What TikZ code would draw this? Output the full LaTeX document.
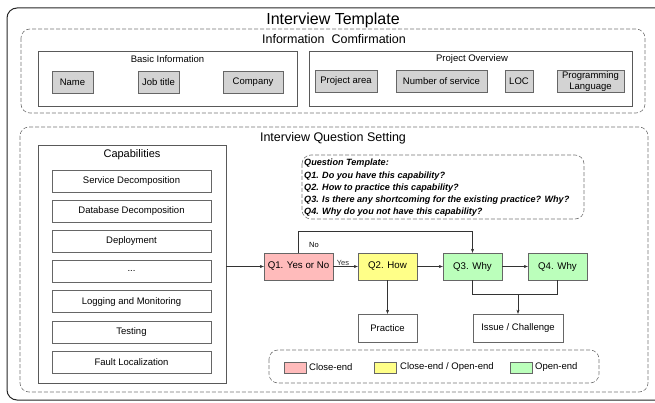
\documentclass[tikz,border=0pt]{standalone}
\usepackage{fontspec}
\setmainfont{Liberation Sans}
\usetikzlibrary{arrows.meta}
\definecolor{closeend}{HTML}{FFBBBB}
\definecolor{mixedend}{HTML}{FFFF88}
\definecolor{openend}{HTML}{BBFFBB}
\definecolor{fieldgray}{HTML}{D3D3D3}
\newcommand{\capdots}{...}

\begin{document}
\begin{tikzpicture}[x=1pt, y=-1pt,
    every node/.style={inner sep=1pt, align=center},
    field/.style={draw=black!60, fill=fieldgray, minimum height=22pt, font=\fontsize{9.5}{10.5}\selectfont},
    capitem/.style={draw=black!60, fill=white, minimum width=159pt, minimum height=22pt, font=\fontsize{9.5}{11}\selectfont},
    group/.style={draw=black!65, minimum height=55pt},
    area/.style={draw=black!55, line width=0.6pt, dash pattern=on 4pt off 2pt, rounded corners=9pt},
    qbox/.style={draw=black!60, minimum width=59pt, minimum height=27pt, font=\fontsize{9.7}{12}\selectfont},
    outbox/.style={draw=black!60, fill=white, minimum height=28pt, font=\fontsize{9.5}{12}\selectfont},
    swatch/.style={draw=black!60, minimum width=22pt, minimum height=11pt, inner sep=0pt},
    legtext/.style={anchor=west, font=\fontsize{9.5}{11}\selectfont},
    arr/.style={-{Stealth[length=4pt, width=3pt]}, black!80}]
    \useasboundingbox (0,0) rectangle (655,403);
    % Draw the outer frame
    \draw[line width=1pt, black!85, rounded corners=10pt] (7,8) rectangle (670,400);
    \node[font=\fontsize{16}{18}\selectfont] (title) at (333,20) {Interview Template};

    % Draw the information confirmation part
    \draw[area] (21,29) rectangle (645,113);
    \node[font=\fontsize{12.5}{14}\selectfont] (infotitle) at (334,39) {Information\ \ Comfirmation};
    \node[group, minimum width=259pt] (basic) at (167.5,78.5) {};
    \node[font=\fontsize{9.5}{11}\selectfont] (basictitle) at (167.5,59) {Basic Information};
    \node[field, minimum width=41pt] (name) at (72.5,82) {Name};
    \node[field, minimum width=41pt] (job) at (158.5,82) {Job title};
    \node[field, minimum width=60pt] (company) at (253,82) {Company};
    \node[group, minimum width=323pt] (project) at (470.5,78.5) {};
    \node[font=\fontsize{9.5}{11}\selectfont] (projecttitle) at (472,59) {Project Overview};
    \node[field, minimum width=62pt] (area) at (346,81.5) {Project area};
    \node[field, minimum width=91pt] (services) at (441.5,81.5) {Number of service};
    \node[field, minimum width=28pt] (loc) at (519,81.5) {LOC};
    \node[field, minimum width=67pt] (lang) at (590.5,81.5) {Programming\\Language};

    % Draw the interview question setting part
    \draw[area] (20,127) rectangle (648,392);
    \node[font=\fontsize{12.5}{14}\selectfont] (qtitle) at (333,138) {Interview Question Setting};
    \node[group, minimum width=188pt, minimum height=238pt] (cap) at (132,264) {};
    \node[font=\fontsize{11}{13}\selectfont] (captitle) at (132,155) {Capabilities};
    \foreach \txt [count=\i from 0] in {Service Decomposition, Database Decomposition, Deployment, \capdots, Logging and Monitoring, Testing, Fault Localization}{
        \node[capitem] (cap\i) at (131.5,181+30.15*\i) {\txt};
    }

    % Draw the question template
    \draw[area] (302,155) rectangle (584,219);
    \node[anchor=north west, align=left, font=\fontsize{9.1}{12.3}\bfseries\itshape] (qtemp) at (303,158)
        {Question Template:\\
         Q1. Do you have this capability?\\
         Q2. How to practice this capability?\\
         Q3. Is there any shortcoming for the existing practice? Why?\\
         Q4. Why do you not have this capability?};

    % Draw the question flow
    \node[qbox, fill=closeend, minimum width=69pt] (q1) at (298.5,266.5) {Q1. Yes or No};
    \node[qbox, fill=mixedend] (q2) at (387.5,266.5) {Q2. How};
    \node[qbox, fill=openend] (q3) at (472.5,266.5) {Q3. Why};
    \node[qbox, fill=openend] (q4) at (557.5,266.5) {Q4. Why};
    \node[outbox, minimum width=59pt] (practice) at (387.5,328) {Practice};
    \node[outbox, minimum width=90pt] (issue) at (518,328) {Issue / Challenge};
    \draw[arr] (cap.east |- q1) -- (q1.west);
    \draw[arr] (q1.east) -- node[above, pos=0.4, font=\fontsize{7.5}{9}\selectfont] {Yes} (q2.west);
    \draw[arr] (q2.east) -- (q3.west);
    \draw[arr] (q3.east) -- (q4.west);
    \draw[arr] (q1.north) -- ++(0,-22) -| (q3.north);
    \node[font=\fontsize{7.5}{9}\selectfont] (no) at (314,245) {No};
    \draw[arr] (q2.south) -- (practice.north);
    \draw[black!80] (q3.south) -- (472.5,294) -| (q4.south);
    \draw[arr] (issue.north |- 0,294) -- (issue.north);

    % Draw the legend
    \draw[area] (269,350) rectangle (599,383);
    \node[swatch, fill=closeend] (lclose) at (295,367.5) {};
    \node[legtext] (tclose) at (308,367.5) {Close-end};
    \node[swatch, fill=mixedend] (lmixed) at (385,367.5) {};
    \node[legtext] (tmixed) at (399,367.5) {Close-end / Open-end};
    \node[swatch, fill=openend] (lopen) at (521,367.5) {};
    \node[legtext] (topen) at (534,367.5) {Open-end};
\end{tikzpicture}
\end{document}
